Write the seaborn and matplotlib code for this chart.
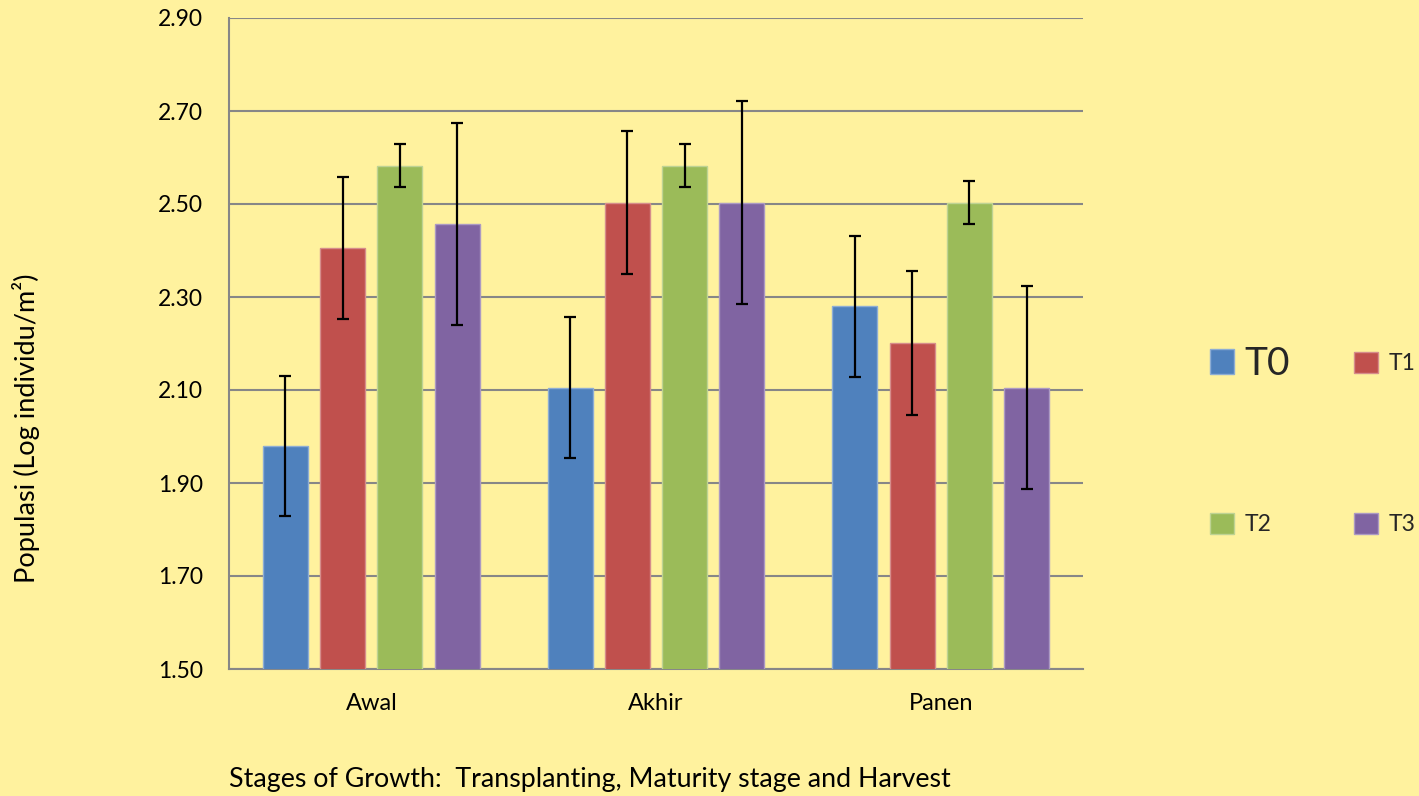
import matplotlib
matplotlib.use("Agg")
import matplotlib.pyplot as plt
import seaborn as sns
import pandas as pd
import numpy as np
from matplotlib.colors import to_rgb

# ---- data ----
stages = ["Awal", "Akhir", "Panen"]
treatments = ["T0", "T1", "T2", "T3"]
t0_vals = [1.98, 2.105, 2.28]
t1_vals = [2.405, 2.503, 2.201]
t2_vals = [2.582, 2.582, 2.503]
t3_vals = [2.457, 2.503, 2.105]
t0_err = [0.151, 0.151, 0.151]
t1_err = [0.153, 0.154, 0.154]
t2_err = [0.046, 0.046, 0.046]
t3_err = [0.218, 0.218, 0.218]
y_ticks = [1.50, 1.70, 1.90, 2.10, 2.30, 2.50, 2.70, 2.90]
y_label = "Populasi (Log individu/m²)"
x_label = "Stages of Growth:  Transplanting, Maturity stage and Harvest"

colors = ["#4F81BD", "#C0504D", "#9BBB59", "#8064A2"]
bg = "#FFF29E"
grid_c = "#878787"

values = [t0_vals, t1_vals, t2_vals, t3_vals]
errors = [t0_err, t1_err, t2_err, t3_err]
rows = []
for t, vals in zip(treatments, values):
    for s, v in zip(stages, vals):
        rows.append({"stage": s, "treatment": t, "value": v})
df = pd.DataFrame(rows)

sns.set_theme(style="white")
plt.rcParams["font.family"] = ["Lato", "DejaVu Sans"]

W, H = 1419, 796
fig = plt.figure(figsize=(W / 100, H / 100), dpi=100, facecolor=bg)
ax = fig.add_axes([229 / W, 1 - 669 / H, (1083 - 229) / W, (669 - 18) / H])
ax.set_facecolor(bg)

sns.barplot(data=df, x="stage", y="value", hue="treatment", order=stages,
            hue_order=treatments, palette=colors, width=0.805, gap=0.215,
            errorbar=None, saturation=1, legend=False, ax=ax, zorder=3)

bar_conts = list(ax.containers)
for i, cont in enumerate(bar_conts):
    c = np.array(to_rgb(colors[i]))
    edge = c + (1 - c) * 0.35
    xs, ys = [], []
    for bar in cont.patches:
        bar.set_edgecolor(edge)
        bar.set_linewidth(1.0)
        xs.append(bar.get_x() + bar.get_width() / 2)
        ys.append(bar.get_height())
    ax.errorbar(xs, ys, yerr=errors[i], fmt="none", ecolor="black",
                elinewidth=1.6, capsize=4.3, capthick=1.6, zorder=5)

ax.set_xlim(-0.5, 2.5)
ax.set_ylim(1.5, 2.9)
ax.set_yticks(y_ticks)
ax.set_yticklabels([f"{v:.2f}" for v in y_ticks])
ax.yaxis.grid(True, color=grid_c, linewidth=1.5, zorder=0)
ax.set_axisbelow(True)
ax.set_xlabel("")
ax.set_ylabel("")

for sp in ["top", "right"]:
    ax.spines[sp].set_visible(False)
for sp in ["left", "bottom"]:
    ax.spines[sp].set_color(grid_c)
    ax.spines[sp].set_linewidth(1.5)

ax.set_xticks([0, 1, 2])
ax.set_xticklabels(stages)
ax.set_xticks([-0.5, 0.5, 1.5, 2.5], minor=True)
ax.tick_params(axis="x", which="major", length=0, pad=17, labelsize=17, colors="black")
ax.tick_params(axis="x", which="minor", length=5, width=1.5, color=grid_c, direction="out")
ax.tick_params(axis="y", which="major", length=6.5, width=1.5, color=grid_c,
               direction="out", pad=12, labelsize=16.5, labelcolor="black")

fig.text(26 / W, 1 - 428 / H, y_label, rotation=90, ha="center", va="center",
         fontsize=19.5, color="black")
fig.text(229 / W, 1 - 780 / H, x_label, ha="left", va="center",
         fontsize=19.3, color="black")

# legend: one entry per legend box, placed in a 2x2 arrangement
sq_px = 24.0
legend_spec = [  # (treatment index, left px, center y px, font size pt)
    (0, 1210, 364, 28.0),
    (1, 1354, 363, 16.5),
    (2, 1210, 524, 16.5),
    (3, 1354, 524, 16.5),
]
for idx, xl, yc, fs in legend_spec:
    em = fs * 100 / 72
    fig.legend([bar_conts[idx]], [treatments[idx]], loc="center left",
               bbox_to_anchor=(xl / W, 1 - yc / H), frameon=False,
               fontsize=fs, handlelength=sq_px / em, handleheight=sq_px / em,
               handletextpad=10.5 / em, borderpad=0, borderaxespad=0)

fig.savefig("out.png", dpi=100, facecolor=bg)
